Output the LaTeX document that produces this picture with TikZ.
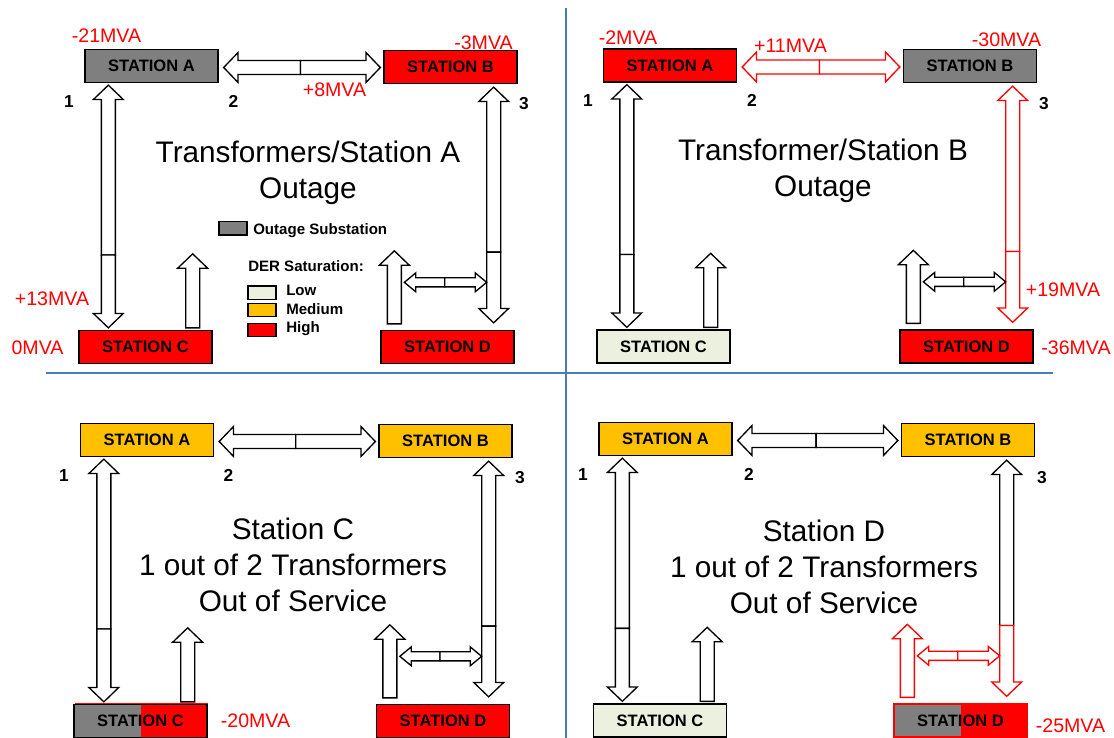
\documentclass[tikz,border=0pt]{standalone}
\usepackage{fontspec}
\setmainfont{Liberation Sans}
\usetikzlibrary{calc}

\definecolor{outgray}{HTML}{7F7F7F}
\definecolor{derhigh}{HTML}{FF0000}
\definecolor{dermed}{HTML}{FFC000}
\definecolor{derlow}{HTML}{EBF1DE}
\definecolor{gridblue}{HTML}{4A7EBB}
\definecolor{flowred}{HTML}{FF0000}

% block-arrow geometry: shaft half-width, head half-width, head length
\newcommand{\bigarrows}{\def\awShaft{5.25pt}\def\awHead{11.25pt}\def\awLen{10.8pt}}
\newcommand{\smallarrows}{\def\awShaft{3.4pt}\def\awHead{7.1pt}\def\awLen{8.6pt}}
\def\awLW{1pt}
\bigarrows

% vertical two-headed block arrow: top colour, bottom colour, top tip, bottom tip, split fraction
\newcommand{\vdarrow}[5]{%
  \path[draw=#1,fill=white,line width=\awLW,line join=miter]
    let \p1=(#3), \p3=($(#3)!#5!(#4)$) in
    (\x1,\y1) -- ({\x1+\awHead},{\y1-\awLen}) -- ({\x1+\awShaft},{\y1-\awLen})
    -- ({\x1+\awShaft},\y3) -- ({\x1-\awShaft},\y3) -- ({\x1-\awShaft},{\y1-\awLen})
    -- ({\x1-\awHead},{\y1-\awLen}) -- cycle;
  \path[draw=#2,fill=white,line width=\awLW,line join=miter]
    let \p1=(#3), \p2=(#4), \p3=($(#3)!#5!(#4)$) in
    (\x1,\y2) -- ({\x1+\awHead},{\y2+\awLen}) -- ({\x1+\awShaft},{\y2+\awLen})
    -- ({\x1+\awShaft},\y3) -- ({\x1-\awShaft},\y3) -- ({\x1-\awShaft},{\y2+\awLen})
    -- ({\x1-\awHead},{\y2+\awLen}) -- cycle;}

% horizontal two-headed block arrow: left colour, right colour, left tip, right tip, split fraction
\newcommand{\hdarrow}[5]{%
  \path[draw=#1,fill=white,line width=\awLW,line join=miter]
    let \p1=(#3), \p3=($(#3)!#5!(#4)$) in
    (\x1,\y1) -- ({\x1+\awLen},{\y1+\awHead}) -- ({\x1+\awLen},{\y1+\awShaft})
    -- (\x3,{\y1+\awShaft}) -- (\x3,{\y1-\awShaft}) -- ({\x1+\awLen},{\y1-\awShaft})
    -- ({\x1+\awLen},{\y1-\awHead}) -- cycle;
  \path[draw=#2,fill=white,line width=\awLW,line join=miter]
    let \p1=(#3), \p2=(#4), \p3=($(#3)!#5!(#4)$) in
    (\x2,\y1) -- ({\x2-\awLen},{\y1+\awHead}) -- ({\x2-\awLen},{\y1+\awShaft})
    -- (\x3,{\y1+\awShaft}) -- (\x3,{\y1-\awShaft}) -- ({\x2-\awLen},{\y1-\awShaft})
    -- ({\x2-\awLen},{\y1-\awHead}) -- cycle;}

% single upward block arrow: colour, tip, base
\newcommand{\upblock}[3]{%
  \path[draw=#1,fill=white,line width=\awLW,line join=miter]
    let \p1=(#2), \p2=(#3) in
    (\x1,\y1) -- ({\x1+\awHead},{\y1-\awLen}) -- ({\x1+\awShaft},{\y1-\awLen})
    -- ({\x1+\awShaft},\y2) -- ({\x1-\awShaft},\y2) -- ({\x1-\awShaft},{\y1-\awLen})
    -- ({\x1-\awHead},{\y1-\awLen}) -- cycle;}

% end points of the links of one station group (prefix, offset of link 3 from B's east side)
\newcommand{\wire}[2]{%
  \coordinate (#1-h2l) at ($(#1-A.east)+(5,1.5)$);
  \coordinate (#1-h2r) at ($(#1-B.west |- #1-h2l)+(-3,0)$);
  \coordinate (#1-v1t) at ($(#1-A.south west)+(24,2)$);
  \coordinate (#1-v1b) at ($(#1-v1t |- #1-C.north)+(0,-2)$);
  \coordinate (#1-v3t) at ($(#1-B.south east)+(#2,3)$);
  \coordinate (#1-v3b) at ($(#1-v3t |- #1-D.north)+(0,-7)$);
  \coordinate (#1-ucb) at ($(#1-C.north east)+(-20,-2)$);
  \coordinate (#1-uct) at ($(#1-ucb)+(0,-74)$);
  \coordinate (#1-udb) at ($(#1-D.north west)+(14,-6)$);
  \coordinate (#1-udt) at ($(#1-udb)+(0,-73)$);
  \coordinate (#1-shl) at ($(#1-udb)+(10,-41.5)$);
  \coordinate (#1-shr) at ($(#1-v3t |- #1-shl)+(-7,0)$);}

\begin{document}
\begin{tikzpicture}[x=0.75pt,y=-0.75pt,
  station/.style={draw=black,line width=1pt,minimum width=99.75pt,minimum height=24.75pt,
    inner sep=0pt,text height=8.9pt,text depth=0pt,font=\fontsize{12.4}{14}\selectfont\bfseries},
  split/.style={path picture={\fill[outgray] (path picture bounding box.north west)
    rectangle (path picture bounding box.south);}},
  mva/.style={text=flowred,inner sep=0pt,text height=10.5pt,text depth=0pt,
    font=\fontsize{14.7}{16}\selectfont},
  idx/.style={inner sep=0pt,text height=9.3pt,text depth=0pt,font=\fontsize{13}{15}\selectfont\bfseries},
  title/.style={inner sep=0pt,text height=16pt,text depth=0pt,font=\fontsize{22.3}{27}\selectfont},
  legtext/.style={anchor=west,inner sep=0pt,text height=8.1pt,text depth=0pt,
    font=\fontsize{11.3}{13}\selectfont\bfseries},
  legbox/.style={draw=black,line width=1pt,minimum width=21pt,minimum height=10pt,inner sep=0pt},
  gridline/.style={gridblue,line width=1.5pt}]

\useasboundingbox (0,0) rectangle (1114,738);
\fill[white] (0,0) rectangle (1114,738);

% quadrant dividers
\draw[gridline] (566,8) -- (566,738);
\draw[gridline] (46,373) -- (1053,373);

% ---------- Transformers / Station A outage ----------
\node[station,fill=outgray] (q1-A) at (151.5,66) {STATION A};
\node[station,fill=derhigh] (q1-B) at (450.5,67) {STATION B};
\node[station,fill=derhigh] (q1-C) at (145.5,347) {STATION C};
\node[station,fill=derhigh] (q1-D) at (447.5,347) {STATION D};
\wire{q1}{-24}
\hdarrow{black}{black}{q1-h2l}{q1-h2r}{0.49}
\vdarrow{black}{black}{q1-v1t}{q1-v1b}{0.70}
\vdarrow{black}{black}{q1-v3t}{q1-v3b}{0.70}
\upblock{black}{q1-uct}{q1-ucb}
\upblock{black}{q1-udt}{q1-udb}
{\smallarrows\hdarrow{black}{black}{q1-shl}{q1-shr}{0.49}}
\node[mva] (q1-mA) at (106.5,36) {-21MVA};
\node[mva] (q1-mB) at (483.5,43) {-3MVA};
\node[mva] (q1-m2) at (334.5,90) {+8MVA};
\node[mva] (q1-m1) at (52,298) {+13MVA};
\node[mva] (q1-mC) at (37.5,347.5) {0MVA};
\node[idx] (q1-n1) at (69,101) {1};
\node[idx] (q1-n2) at (233.5,101) {2};
\node[idx] (q1-n3) at (524,103) {3};
\node[title] (q1-t1) at (308,152) {Transformers/Station A};
\node[title] (q1-t2) at (308,188) {Outage};

% legend
\node[legbox,fill=outgray] (lg-out) at (233,228.5) {};
\node[legtext] (lg-outt) at (253,229) {Outage Substation};
\node[legtext] (lg-der) at (248,266) {DER Saturation:};
\node[legbox,fill=derlow] (lg-low) at (262,292.5) {};
\node[legbox,fill=dermed] (lg-med) at (262,310) {};
\node[legbox,fill=derhigh] (lg-high) at (262,330) {};
\node[legtext] (lg-lowt) at (286,290) {Low};
\node[legtext] (lg-medt) at (286,309) {Medium};
\node[legtext] (lg-hight) at (286,327) {High};

% ---------- Transformer / Station B outage ----------
\node[station,fill=derhigh] (q2-A) at (670,65.5) {STATION A};
\node[station,fill=outgray] (q2-B) at (970,66) {STATION B};
\node[station,fill=derlow] (q2-C) at (663.5,346.5) {STATION C};
\node[station,fill=derhigh] (q2-D) at (966.5,346.5) {STATION D};
\wire{q2}{-24.5}
\hdarrow{flowred}{flowred}{q2-h2l}{q2-h2r}{0.49}
\vdarrow{black}{black}{q2-v1t}{q2-v1b}{0.70}
\vdarrow{flowred}{flowred}{q2-v3t}{q2-v3b}{0.70}
\upblock{black}{q2-uct}{q2-ucb}
\upblock{black}{q2-udt}{q2-udb}
{\smallarrows\hdarrow{black}{black}{q2-shl}{q2-shr}{0.49}}
\node[mva] (q2-mA) at (628,38) {-2MVA};
\node[mva] (q2-m2) at (790.5,46) {+11MVA};
\node[mva] (q2-mB) at (1006.5,40) {-30MVA};
\node[mva] (q2-m3) at (1063,289) {+19MVA};
\node[mva] (q2-mD) at (1076,347) {-36MVA};
\node[idx] (q2-n1) at (588,100) {1};
\node[idx] (q2-n2) at (752,100) {2};
\node[idx] (q2-n3) at (1044,103) {3};
\node[title] (q2-t1) at (823,150) {Transformer/Station B};
\node[title] (q2-t2) at (823,186) {Outage};

% ---------- Station C, one transformer out ----------
\node[station,fill=dermed] (q3-A) at (147,440) {STATION A};
\node[station,fill=dermed] (q3-B) at (445.5,441) {STATION B};
\draw[derhigh,line width=0.7pt] (75.5,703.5) rectangle (207.5,738);
\node[station,fill=derhigh,split] (q3-C) at (140.5,721) {STATION C};
\node[station,fill=derhigh] (q3-D) at (443,721) {STATION D};
\wire{q3}{-24}
\hdarrow{black}{black}{q3-h2l}{q3-h2r}{0.49}
\vdarrow{black}{black}{q3-v1t}{q3-v1b}{0.70}
\vdarrow{black}{black}{q3-v3t}{q3-v3b}{0.70}
\upblock{black}{q3-uct}{q3-ucb}
\upblock{black}{q3-udt}{q3-udb}
{\smallarrows\hdarrow{black}{black}{q3-shl}{q3-shr}{0.49}}
\node[mva] (q3-mC) at (255.5,720) {-20MVA};
\node[idx] (q3-n1) at (64,475) {1};
\node[idx] (q3-n2) at (228.5,475) {2};
\node[idx] (q3-n3) at (520,477) {3};
\node[title] (q3-t1) at (293,529) {Station C};
\node[title] (q3-t2) at (293,565) {1 out of 2 Transformers};
\node[title] (q3-t3) at (293,601) {Out of Service};

% ---------- Station D, one transformer out ----------
\node[station,fill=dermed] (q4-A) at (665.5,439) {STATION A};
\node[station,fill=dermed] (q4-B) at (968,440) {STATION B};
\node[station,fill=derlow] (q4-C) at (660,720.5) {STATION C};
\node[station,fill=derhigh,draw=derhigh,split] (q4-D) at (960.5,720.5) {STATION D};
\wire{q4}{-28.5}
\hdarrow{black}{black}{q4-h2l}{q4-h2r}{0.49}
\vdarrow{black}{black}{q4-v1t}{q4-v1b}{0.70}
\vdarrow{black}{flowred}{q4-v3t}{q4-v3b}{0.70}
\upblock{black}{q4-uct}{q4-ucb}
\upblock{flowred}{q4-udt}{q4-udb}
{\smallarrows\hdarrow{flowred}{flowred}{q4-shl}{q4-shr}{0.49}}
\node[mva] (q4-mD) at (1070.5,725) {-25MVA};
\node[idx] (q4-n1) at (583,474) {1};
\node[idx] (q4-n2) at (749,474) {2};
\node[idx] (q4-n3) at (1042,477) {3};
\node[title] (q4-t1) at (824,531) {Station D};
\node[title] (q4-t2) at (824,567) {1 out of 2 Transformers};
\node[title] (q4-t3) at (824,603) {Out of Service};

\end{tikzpicture}
\end{document}
